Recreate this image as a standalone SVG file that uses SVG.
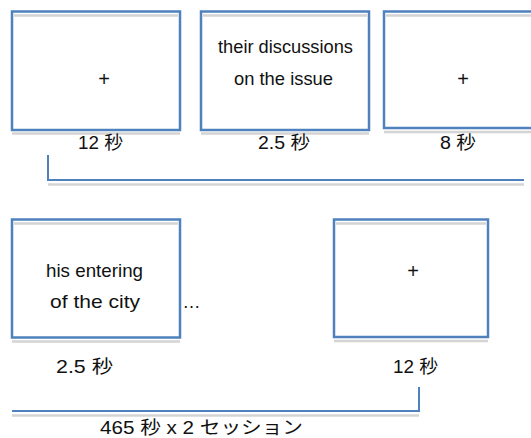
<svg xmlns="http://www.w3.org/2000/svg" width="531" height="438" viewBox="0 0 531 438">
<style>
.box{fill:#fff;stroke:#4F81BD;stroke-width:2.5}
.sh{stroke:#D4D4D4;stroke-width:2.5;fill:none}
.br{stroke:#4F81BD;stroke-width:2;fill:none}
text{font-family:"Liberation Sans","Noto Sans CJK JP",sans-serif;font-size:18px;fill:#111;text-anchor:middle}
.t{font-size:19px}
.p{font-size:20px}
</style>
<rect width="531" height="438" fill="#fff"/>
<g id="connectors">
<path class="sh" d="M48 184.5H524"/>
<path class="br" d="M48 155V180H524"/>
<path class="sh" d="M12 415.5H419"/>
<path class="br" d="M12 411H419V387"/>
</g>
<g id="box1">
<rect class="box" x="12" y="11.5" width="168" height="118.5"/>
<path class="sh" d="M14 15.5H178M12 133.5H180"/>
<text class="p" x="104" y="86">+</text>
<text x="100.5" y="149" textLength="45" lengthAdjust="spacingAndGlyphs">12 秒</text>
</g>
<g id="box2">
<rect class="box" x="201" y="11.5" width="168" height="118.5"/>
<path class="sh" d="M203 15.5H367M201 133.5H369"/>
<text class="t" x="285.5" y="53" textLength="135" lengthAdjust="spacingAndGlyphs">their discussions</text>
<text class="t" x="283.5" y="85" textLength="99" lengthAdjust="spacingAndGlyphs">on the issue</text>
<text x="284" y="149" textLength="52" lengthAdjust="spacingAndGlyphs">2.5 秒</text>
</g>
<g id="box3">
<rect class="box" x="384" y="11.5" width="160" height="116.5"/>
<path class="sh" d="M386 15.5H531M384 132H531"/>
<text class="p" x="463" y="86">+</text>
<text x="458" y="149" textLength="36" lengthAdjust="spacingAndGlyphs">8 秒</text>
</g>
<g id="box4">
<rect class="box" x="12" y="219.5" width="168" height="118"/>
<path class="sh" d="M14 223.5H178M12 341.5H180"/>
<text class="t" x="94.5" y="277" textLength="97" lengthAdjust="spacingAndGlyphs">his entering</text>
<text class="t" x="95" y="308" textLength="90" lengthAdjust="spacingAndGlyphs">of the city</text>
<text x="191.5" y="308">…</text>
<text x="84.5" y="373" textLength="57" lengthAdjust="spacingAndGlyphs">2.5 秒</text>
</g>
<g id="box5">
<rect class="box" x="334" y="219.5" width="154" height="117.5"/>
<path class="sh" d="M336 223.5H486M334 341H488"/>
<text class="p" x="413" y="278">+</text>
<text x="415.5" y="373" textLength="45" lengthAdjust="spacingAndGlyphs">12 秒</text>
</g>
<g id="total">
<text x="201.5" y="434" textLength="203" lengthAdjust="spacingAndGlyphs">465 秒 x 2 セッション</text>
</g>
</svg>
